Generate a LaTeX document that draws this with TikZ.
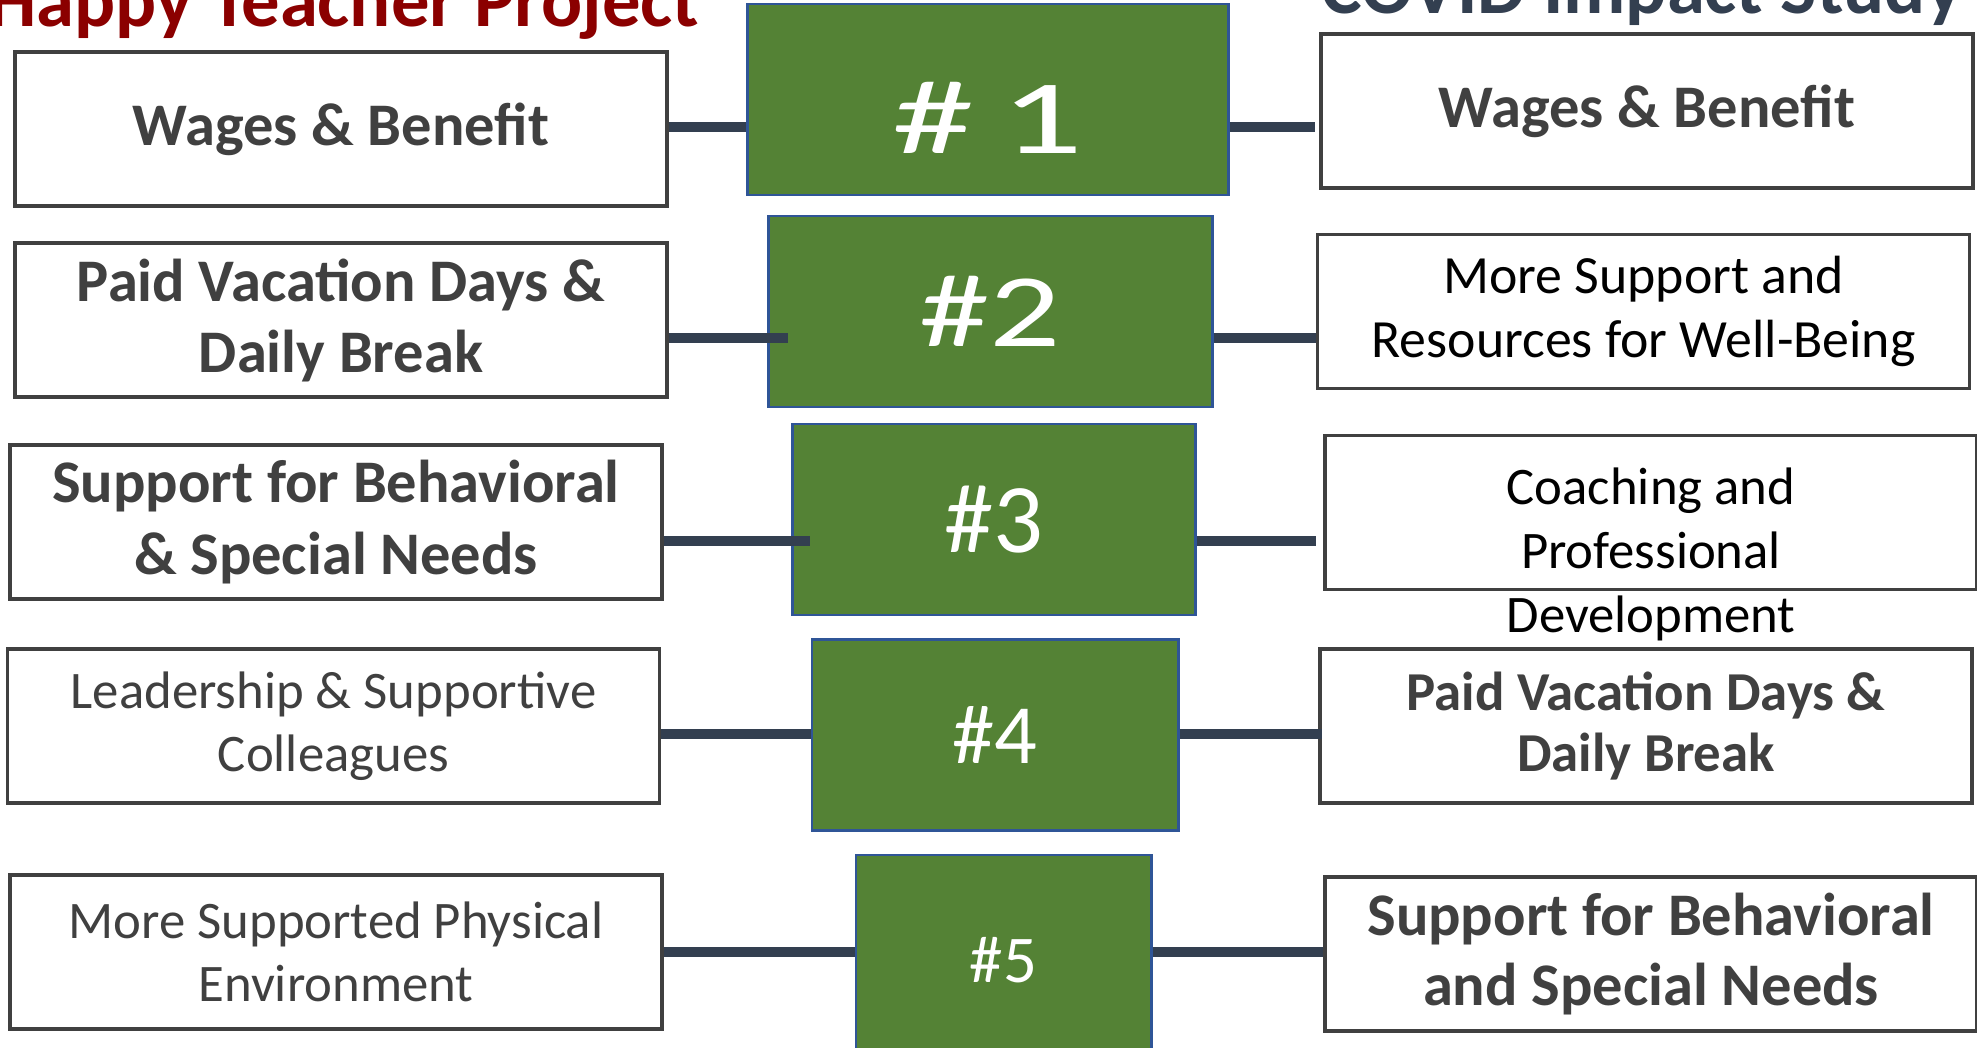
\documentclass[tikz,border=0pt]{standalone}
\usepackage{fontspec}
\setmainfont{Carlito}
\definecolor{rankgreen}{HTML}{548235}
\definecolor{rankedge}{HTML}{2F5597}
\definecolor{linkblue}{HTML}{333F50}
\definecolor{boxgray}{HTML}{404040}
\definecolor{htpred}{HTML}{8B0000}

\tikzset{
	reason/.style={draw=boxgray, line width=1pt, fill=white, minimum width=6.52cm,
		minimum height=1.54cm, align=center, text=boxgray, inner sep=0pt},
	rank/.style={draw=rankedge, line width=0.8pt, fill=rankgreen, text=white,
		minimum height=1.91cm, inner sep=0pt},
	link/.style={draw=linkblue, line width=2.9pt},
	strong/.style={font=\fontsize{17.2}{20.2}\selectfont\bfseries},
	plain/.style={font=\fontsize{15}{18}\selectfont},
	heading/.style={font=\fontsize{21.8}{24}\selectfont\bfseries, inner sep=0pt},
}

\begin{document}
\begin{tikzpicture}[x=0.01cm, y=-0.01cm]
	\useasboundingbox (0,0) rectangle (1977,1047);

	% the two headings, partly above the page
	\node[heading, text=htpred, anchor=base east] (ht) at (700,26) {Happy Teacher Project};
	\node[heading, text=linkblue, anchor=base east] (cs) at (1963,13) {COVID Impact Study};

	% rankings
	\node[rank, minimum width=4.80cm, text height=1.08cm, text depth=0pt,
		font=\fontsize{30}{30}\selectfont] (g1) at (988,99.5) {\scalebox{1.55}[1]{\#\,1}};
	\node[rank, minimum width=4.43cm, font=\fontsize{29.6}{30}\selectfont] (g2) at (990.5,311.5) {\scalebox{1.35}[1]{\#2}};
	\node[rank, minimum width=4.02cm, font=\fontsize{28}{30}\selectfont] (g3) at (994,519.5) {\#3};
	\node[rank, minimum width=3.66cm, font=\fontsize{24}{30}\selectfont] (g4) at (995,735) {\#4};
	\node[rank, minimum width=2.95cm, minimum height=2.10cm, font=\fontsize{19}{30}\selectfont] (g5) at (1003.5,960) {\#5};

	% left column
	\node[reason, strong] (l1) at (341,129) {Wages \& Benefit};
	\node[reason, strong] (l2) at (341,320) {Paid Vacation Days \&\\Daily Break};
	\node[reason, strong] (l3) at (336,522) {Support for Behavioral\\\& Special Needs};
	\node[reason, plain] (l4) at (333.5,726) {Leadership \& Supportive\\Colleagues};
	\node[reason, plain] (l5) at (336,952) {More Supported Physical\\Environment};

	% right column
	\node[reason, strong] (r1) at (1647,111) {Wages \& Benefit};
	\node[reason, plain, text=black, font=\fontsize{15.3}{18.3}\selectfont] (r2) at (1643.5,311.5) {More Support and\\Resources for Well-Being};
	\node[reason] (r3) at (1651,512.5) {};
	\node[plain, text=black, align=center, inner sep=0pt, anchor=north,
		font=\fontsize{15}{18.2}\selectfont] (r3t) at (1651,467) {Coaching and\\Professional\\Development};
	\node[reason, strong, font=\fontsize{15.6}{17.6}\selectfont\bfseries] (r4) at (1646,726) {Paid Vacation Days \&\\Daily Break};
	\node[reason, strong, font=\fontsize{17.2}{19.7}\selectfont\bfseries] (r5) at (1651,954) {Support for Behavioral\\and Special Needs};

	% row heights of the links
	\coordinate (y1) at (0,127);
	\coordinate (y2) at (0,338);
	\coordinate (y3) at (0,541);
	\coordinate (y4) at (0,734);
	\coordinate (y5) at (0,952);

	\draw[link] (l1.east |- y1) -- (g1.west |- y1);
	\draw[link, shorten >=-0.21cm] (l2.east |- y2) -- (g2.west |- y2);
	\draw[link, shorten >=-0.18cm] (l3.east |- y3) -- (g3.west |- y3);
	\draw[link] (l4.east |- y4) -- (g4.west |- y4);
	\draw[link] (l5.east |- y5) -- (g5.west |- y5);

	\draw[link, shorten >=0.04cm] (g1.east |- y1) -- (r1.west |- y1);
	\draw[link] (g2.east |- y2) -- (r2.west |- y2);
	\draw[link, shorten >=0.07cm] (g3.east |- y3) -- (r3.west |- y3);
	\draw[link, shorten >=-0.04cm] (g4.east |- y4) -- (r4.west |- y4);
	\draw[link] (g5.east |- y5) -- (r5.west |- y5);
\end{tikzpicture}
\end{document}
